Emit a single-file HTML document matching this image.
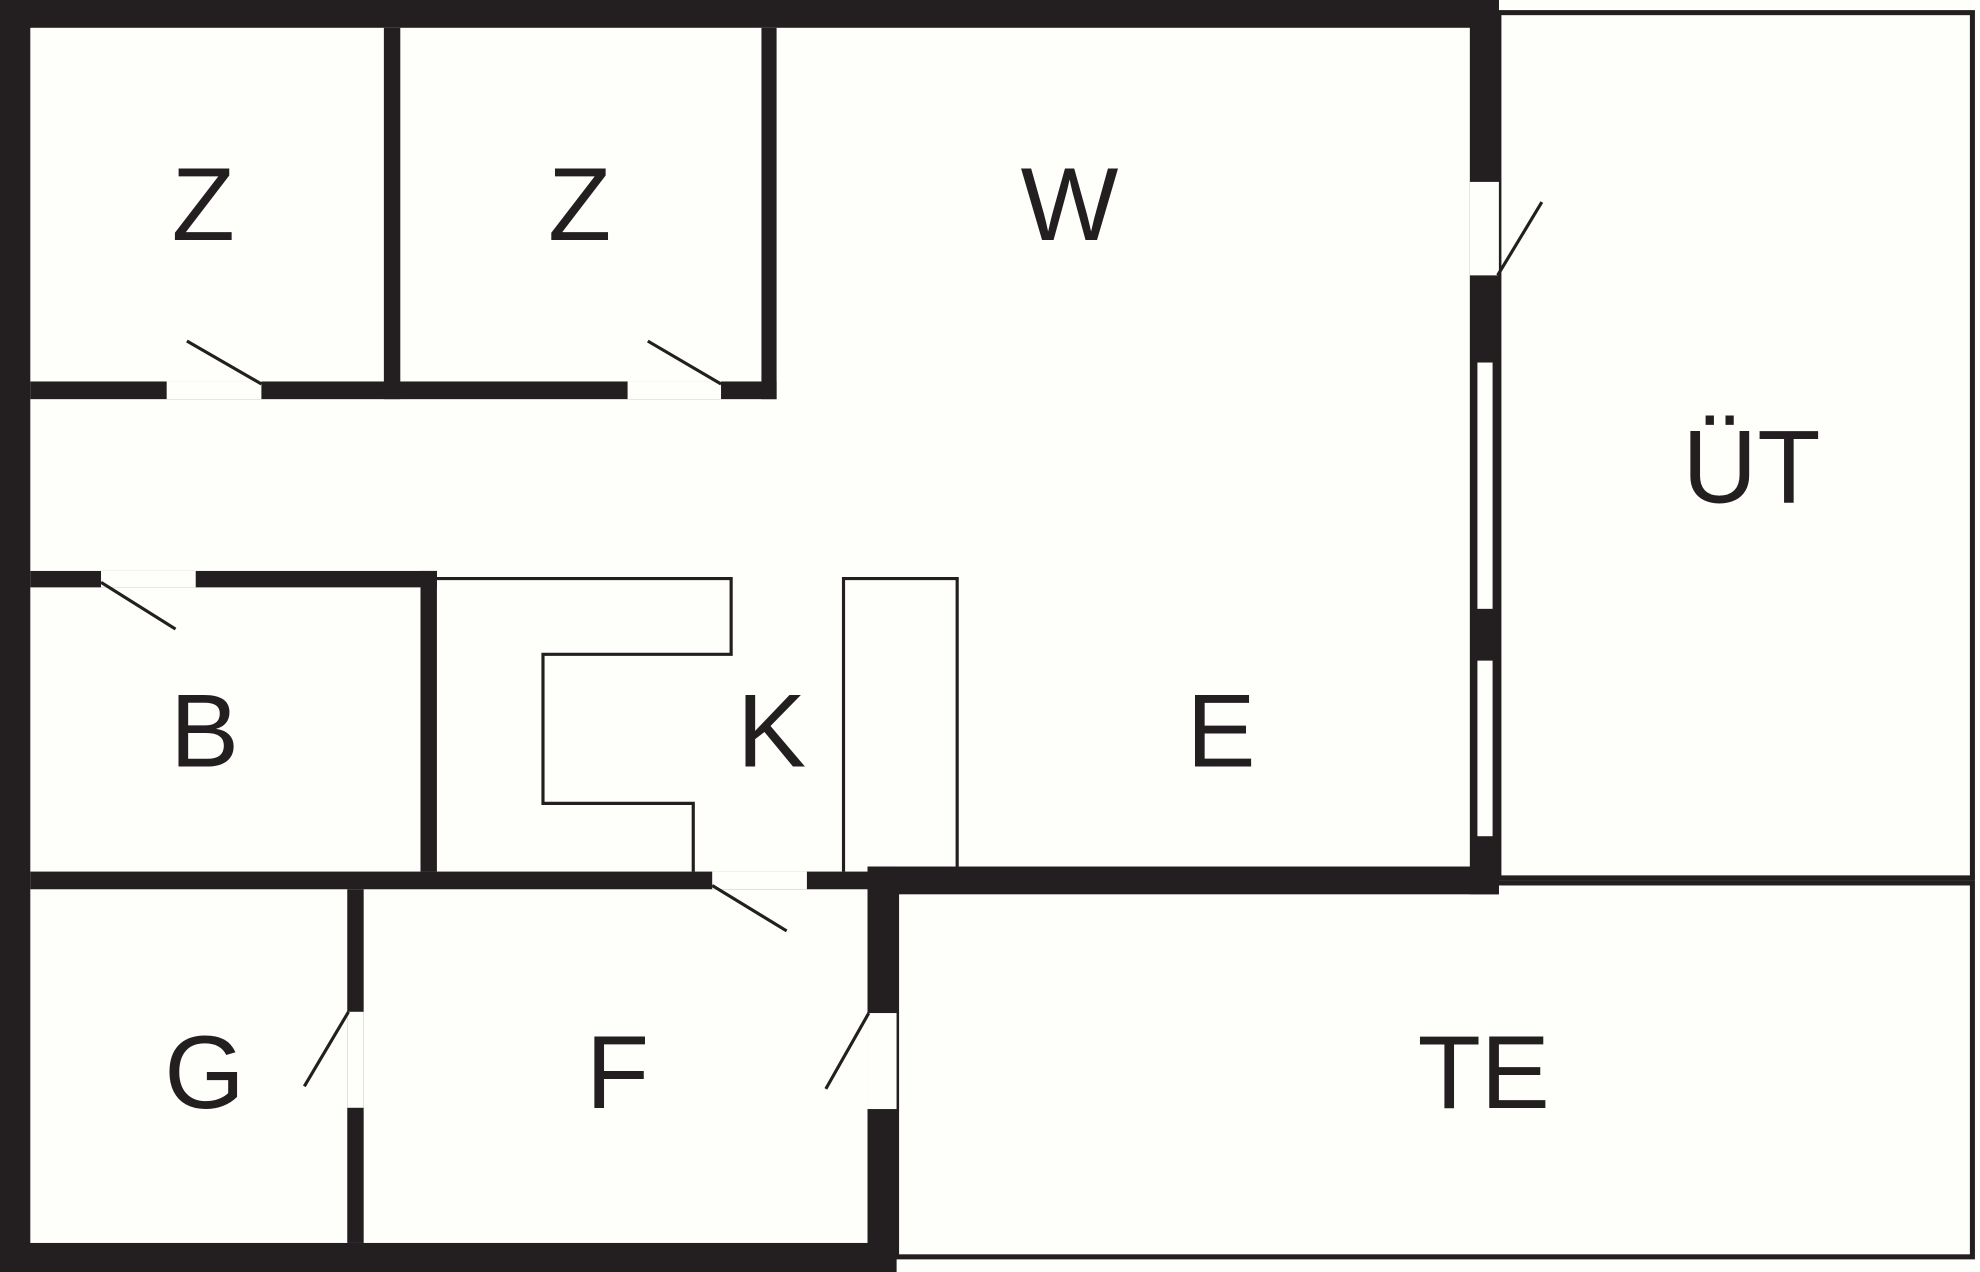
<!DOCTYPE html>
<html><head><meta charset="utf-8"><style>html,body{margin:0;padding:0;background:#fefefb}svg{display:block}</style></head><body>
<svg width="1980" height="1272" viewBox="0 0 1568 1007" preserveAspectRatio="none" xmlns="http://www.w3.org/2000/svg">
<rect width="1568" height="1007" fill="#fefefb"/>
<g fill="none" stroke="#231f20" stroke-width="4">
<rect x="1187" y="10" width="375" height="685"/>
<rect x="710" y="699" width="852" height="296"/>
</g>
<g fill="#231f20">
<rect x="0" y="0" width="24" height="1007"/>
<rect x="0" y="0" width="1187" height="22"/>
<rect x="0" y="984" width="710" height="23"/>
<rect x="1164" y="0" width="23" height="708"/>
<rect x="687" y="686" width="500" height="22"/>
<rect x="687" y="686" width="23" height="321"/>
<rect x="304" y="22" width="13" height="294"/>
<rect x="603" y="22" width="12" height="294"/>
<rect x="24" y="302" width="591" height="14"/>
<rect x="24" y="452" width="322" height="13"/>
<rect x="333" y="452" width="13" height="238"/>
<rect x="24" y="690" width="663" height="14"/>
<rect x="275" y="704" width="13" height="280"/>
</g>
<g fill="#fefefb">
<rect x="1164" y="144" width="23" height="74"/>
<rect x="1170" y="287" width="12" height="195"/>
<rect x="1170" y="523" width="12" height="139"/>
<rect x="687" y="802" width="23" height="76"/>
<rect x="132" y="302" width="75" height="14"/>
<rect x="497" y="302" width="74" height="14"/>
<rect x="80" y="452" width="75" height="13"/>
<rect x="564" y="690" width="75" height="14"/>
<rect x="275" y="801" width="13" height="76"/>
</g>
<g stroke="#231f20" stroke-width="2.5" fill="none">
<line x1="207" y1="304" x2="148" y2="270"/>
<line x1="571" y1="304" x2="513" y2="270"/>
<line x1="80" y1="461" x2="139" y2="498"/>
<line x1="564" y1="701" x2="623" y2="737"/>
<line x1="276" y1="801" x2="241" y2="860"/>
<line x1="688" y1="802" x2="654" y2="862"/>
<line x1="1186" y1="218" x2="1221" y2="160"/>
<polyline points="346,458 579,458 579,518 430,518 430,636 549,636 549,690"/>
<polyline points="668,690 668,458 758,458 758,686"/>
</g>
<g fill="#231f20" font-family="Liberation Sans, sans-serif" font-size="82" text-anchor="middle">
<text x="161" y="190">Z</text>
<text x="459" y="190">Z</text>
<text x="847" y="190">W</text>
<text x="1387" y="398">ÜT</text>
<text x="162" y="607">B</text>
<text x="611" y="607">K</text>
<text x="967" y="607">E</text>
<text x="162" y="877">G</text>
<text x="489" y="877">F</text>
<text x="1175" y="877">TE</text>
</g>
</svg>
</body></html>
